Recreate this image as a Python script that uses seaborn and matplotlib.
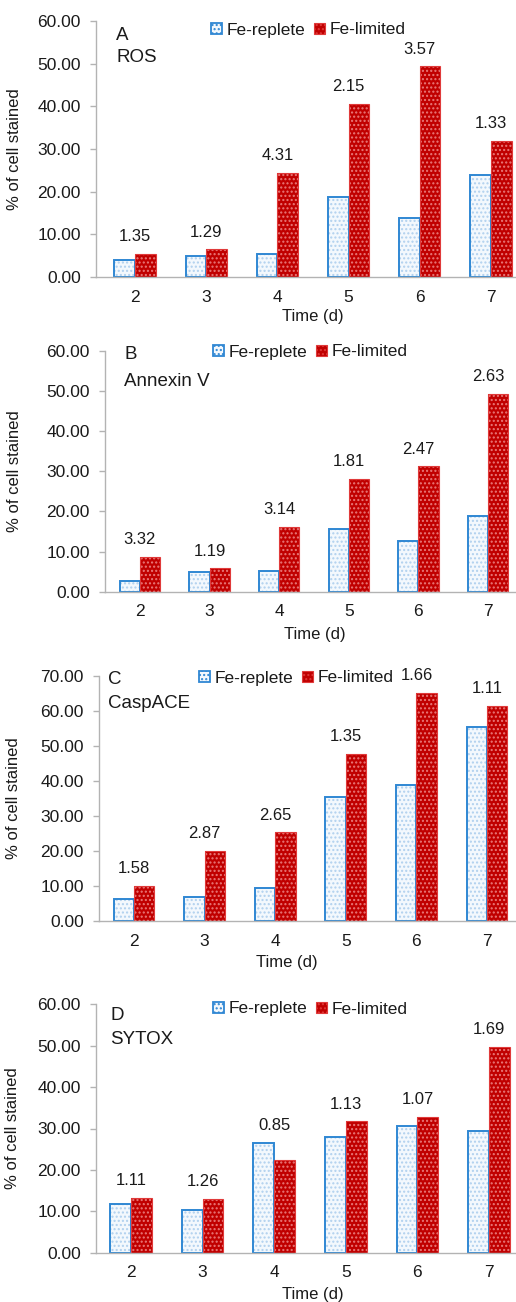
import numpy as np
import pandas as pd
import matplotlib
matplotlib.use("Agg")
import matplotlib.pyplot as plt
from matplotlib.patches import Patch, Rectangle
from matplotlib.ticker import FormatStrFormatter, MultipleLocator
import seaborn as sns

# ---------------- data ----------------
days = ["2", "3", "4", "5", "6", "7"]
series_names = ["Fe-replete", "Fe-limited"]

ros_replete = [4.0, 4.9, 5.5, 18.8, 13.8, 24.0]
ros_limited = [5.4, 6.5, 24.4, 40.5, 49.4, 31.9]
ros_ratio = ["1.35", "1.29", "4.31", "2.15", "3.57", "1.33"]

annexin_replete = [2.6, 4.9, 5.15, 15.5, 12.7, 18.8]
annexin_limited = [8.65, 5.8, 16.1, 28.1, 31.2, 49.2]
annexin_ratio = ["3.32", "1.19", "3.14", "1.81", "2.47", "2.63"]

caspace_replete = [6.3, 6.9, 9.4, 35.5, 38.9, 55.4]
caspace_limited = [10.0, 20.0, 25.3, 47.7, 65.1, 61.3]
caspace_ratio = ["1.58", "2.87", "2.65", "1.35", "1.66", "1.11"]

sytox_replete = [11.8, 10.2, 26.6, 28.0, 30.6, 29.4]
sytox_limited = [13.3, 13.0, 22.4, 31.7, 32.8, 49.8]
sytox_ratio = ["1.11", "1.26", "0.85", "1.13", "1.07", "1.69"]

panel_letters = ["A", "B", "C", "D"]
panel_names = ["ROS", "Annexin V", "CaspACE", "SYTOX"]
y_max = [60, 60, 70, 60]
y_label = "% of cell stained"
x_label = "Time (d)"

panel_data = [
    (ros_replete, ros_limited, ros_ratio),
    (annexin_replete, annexin_limited, annexin_ratio),
    (caspace_replete, caspace_limited, caspace_ratio),
    (sytox_replete, sytox_limited, sytox_ratio),
]

# ---------------- style ----------------
sns.set_style("white")
plt.rcParams["font.family"] = ["Liberation Sans", "DejaVu Sans"]
plt.rcParams["hatch.linewidth"] = 1.0

W, H = 516, 1302
fig = plt.figure(figsize=(W / 100, H / 100), dpi=100)

# layout in pixels: left, top, bottom, first-category x, category spacing
layouts = [
    (96, 21, 277, 135, 71.2),
    (105, 350.7, 591.7, 140, 69.6),
    (99, 675.7, 921, 134, 70.6),
    (96, 1004.3, 1252.7, 131, 71.6),
]
letter_pos = [(116, 35, 58), (124, 355, 381), (108, 679, 704), (110, 1015, 1039)]
legend_pos = [(308, 30), (310, 352), (296, 678), (310, 1009)]
ylabel_x = [22, 22, 21, 20]
xlabel_xy = [(313, 317), (315, 635), (287, 963), (313, 1294)]

rep_face, rep_dot, rep_edge = "#f3f8fd", "#b0d0ee", "#2f87d3"
lim_face, lim_dot, lim_edge = "#c00000", "#e97a7a", "#e03a3a"
grey = "#b3b3b3"
txt = "#1a1a1a"

for k in range(4):
    rep, lim, ratio = panel_data[k]
    left, top, bottom, c0, sp = layouts[k]
    ax = fig.add_axes([left / W, 1 - bottom / H, (W - left) / W, (bottom - top) / H])

    df = pd.DataFrame({
        "day": days * 2,
        "value": list(rep) + list(lim),
        "series": [series_names[0]] * len(days) + [series_names[1]] * len(days),
    })
    sns.barplot(data=df, x="day", y="value", hue="series", order=days,
                hue_order=series_names, palette=[rep_face, lim_face],
                width=0.58, gap=0, saturation=1, errorbar=None, ax=ax, legend=False)

    # texture + outline
    for p in list(ax.patches):
        fc = matplotlib.colors.to_hex(p.get_facecolor())
        is_rep = fc.lower() == rep_face
        p.set_hatch("....")
        p.set_edgecolor(rep_dot if is_rep else lim_dot)
        p.set_linewidth(0)
        ax.add_patch(Rectangle(p.get_xy(), p.get_width(), p.get_height(), fill=False,
                               edgecolor=rep_edge if is_rep else lim_edge,
                               linewidth=1.4 if is_rep else 0.8, zorder=p.get_zorder() + 0.1))

    # ratio labels
    for i, r in enumerate(ratio):
        ax.annotate(r, xy=(i, max(rep[i], lim[i])), xytext=(0, 7), textcoords="offset points",
                    ha="center", va="bottom", fontsize=12, color=txt)

    ax.set_xlim((left - c0) / sp, (W - c0) / sp)
    ax.set_ylim(0, y_max[k])
    ax.yaxis.set_major_locator(MultipleLocator(10))
    ax.yaxis.set_major_formatter(FormatStrFormatter("%.2f"))
    for s in ["top", "right"]:
        ax.spines[s].set_visible(False)
    for s in ["left", "bottom"]:
        ax.spines[s].set_color(grey)
        ax.spines[s].set_linewidth(1.0)
    ax.tick_params(axis="y", length=4, width=1.0, color=grey, pad=7, labelsize=12.5, labelcolor=txt, left=True)
    ax.tick_params(axis="x", length=0, pad=9, labelsize=12.5, labelcolor=txt)

    ax.set_ylabel(y_label, fontsize=12, color=txt)
    ax.yaxis.set_label_coords((ylabel_x[k] - left) / (W - left), 0.5)
    ax.set_xlabel(x_label, fontsize=12, color=txt)
    xlx, xly = xlabel_xy[k]
    ax.xaxis.set_label_coords((xlx - left) / (W - left), -(xly - bottom) / (bottom - top))
    ax.xaxis.label.set_va("center")

    lx, ly1, ly2 = letter_pos[k]
    fig.text(lx / W, 1 - ly1 / H, panel_letters[k], ha="left", va="center", fontsize=13.5, color=txt)
    fig.text(lx / W, 1 - ly2 / H, panel_names[k], ha="left", va="center", fontsize=13.5, color=txt)

    handles = [Patch(facecolor=rep_face, edgecolor=rep_edge, linewidth=1.3, hatch="...."),
               Patch(facecolor=lim_face, edgecolor=lim_edge, linewidth=0.8, hatch="....")]
    gx, gy = legend_pos[k]
    ax.legend(handles, series_names, loc="center", bbox_to_anchor=(gx / W, 1 - gy / H),
              bbox_transform=fig.transFigure, ncol=2, frameon=False, fontsize=12.5,
              handlelength=0.65, handleheight=0.65, handletextpad=0.25, columnspacing=0.5,
              borderpad=0, labelcolor=txt)

fig.savefig("out.png", dpi=100)
